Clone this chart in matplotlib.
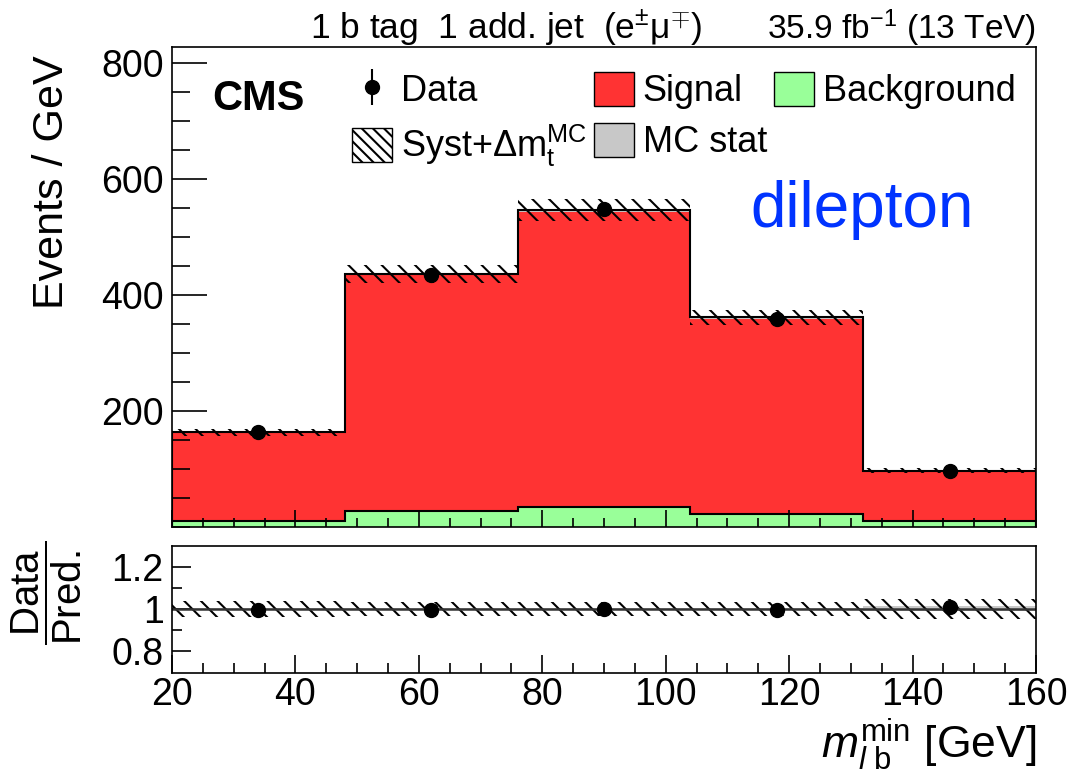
import matplotlib
matplotlib.use('Agg')
import matplotlib.pyplot as plt
from matplotlib.ticker import MultipleLocator, FixedLocator
from matplotlib.patches import Patch

plt.rcParams['font.family'] = ['Liberation Sans', 'DejaVu Sans']
plt.rcParams['mathtext.fontset'] = 'custom'
plt.rcParams['mathtext.rm'] = 'Liberation Sans'
plt.rcParams['mathtext.it'] = 'Liberation Sans:italic'
plt.rcParams['mathtext.bf'] = 'Liberation Sans:bold'
plt.rcParams['hatch.linewidth'] = 1.5

# binning in m_lb^min (GeV)
edges = [20, 48, 76, 104, 132, 160]
bin_centers = [34, 62, 90, 118, 146]

# events / GeV
data = [164, 434, 548, 359, 97]
data_err = [2.4, 3.9, 4.4, 3.6, 1.9]
background = [11, 27, 34, 23, 10]
prediction = [163, 436, 546, 361, 97]   # signal + background
syst_rel = [0.037, 0.035, 0.035, 0.035, 0.048]
mcstat_rel = [0.006, 0.005, 0.005, 0.005, 0.012]

# ratio panel
ratio = [0.995, 0.993, 1.0, 0.995, 1.011]
ratio_err = [0.015, 0.009, 0.008, 0.01, 0.019]

red = '#ff3333'
green = '#99ff99'
grey = '#c8c8c8'
hatch = '\\\\'

fig = plt.figure(figsize=(10.71, 7.74), dpi=100)
W, H = 1071, 774
ax = fig.add_axes([172 / W, 1 - 527 / H, 864 / W, 480 / H])
ax2 = fig.add_axes([172 / W, 1 - 673 / H, 864 / W, 127 / H])

# --- main panel ---
ax.stairs(background, edges, fill=True, color=green)
ax.stairs(prediction, edges, baseline=background, fill=True, color=red)

stat_up = [p * (1 + r) for p, r in zip(prediction, mcstat_rel)]
stat_dn = [p * (1 - r) for p, r in zip(prediction, mcstat_rel)]
ax.stairs(stat_up, edges, baseline=stat_dn, fill=True, color=grey, lw=0)

syst_up = [p * (1 + r) for p, r in zip(prediction, syst_rel)]
syst_dn = [p * (1 - r) for p, r in zip(prediction, syst_rel)]
ax.stairs(syst_up, edges, baseline=syst_dn, fill=True, facecolor='none',
          edgecolor='k', hatch=hatch, lw=0)

ax.stairs(background, edges, color='k', lw=1.5)
ax.stairs(prediction, edges, color='k', lw=1.5)

data_h = ax.errorbar(bin_centers, data, yerr=data_err, fmt='o', color='k',
                     ms=10, elinewidth=1.5, capsize=0)

ax.set_xlim(20, 160)
ax.set_ylim(0, 827)
ax.yaxis.set_major_locator(FixedLocator([200, 400, 600, 800]))
ax.yaxis.set_minor_locator(MultipleLocator(50))
ax.xaxis.set_major_locator(MultipleLocator(20))
ax.xaxis.set_minor_locator(MultipleLocator(5))
ax.tick_params(axis='both', which='both', direction='in', width=1.2,
               top=False, right=False, labelbottom=False)
ax.tick_params(axis='y', which='major', length=25, labelsize=27, pad=6)
ax.tick_params(axis='y', which='minor', length=13)
ax.tick_params(axis='x', which='major', length=12)
ax.tick_params(axis='x', which='minor', length=6.5)
for s in ax.spines.values():
    s.set_linewidth(1.2)

ax.set_ylabel('Events / GeV', fontsize=31, loc='top')
ax.yaxis.set_label_coords(-0.116, 0.983)

handles = [
    data_h,
    Patch(facecolor='white', edgecolor='k', hatch='\\\\\\'),
    Patch(facecolor=red, edgecolor='k'),
    Patch(facecolor=grey, edgecolor='k'),
    Patch(facecolor=green, edgecolor='k'),
]
labels = ['Data', r'Syst+$\Delta\mathrm{m}_{\mathrm{t}}^{\mathrm{MC}}$',
          'Signal', 'MC stat', 'Background']
fig.legend(handles, labels, ncol=3, loc='upper left',
           bbox_to_anchor=(352 / W, 1 - 72 / H), frameon=False, fontsize=26,
           handlelength=1.1, handleheight=1.08, handletextpad=0.25,
           columnspacing=0.2, labelspacing=0.37, borderpad=0, borderaxespad=0)

fig.text(212 / W, 1 - 99 / H, 'CMS', fontsize=30, fontweight='bold',
         va='center', ha='left')
fig.text(750 / W, 1 - 210 / H, 'dilepton', fontsize=46, color='#0033ff',
         va='center', ha='left')

fig.text(310 / W, 1 - 39 / H,
         r'1 b tag  1 add. jet  (e$^{\pm}$μ$^{\mp}$)', fontsize=25.5,
         va='baseline', ha='left')
fig.text(1036 / W, 1 - 39 / H, r'35.9 fb$^{-1}$ (13 TeV)', fontsize=24,
         va='baseline', ha='right')

# --- ratio panel ---
r_stat_up = [1 + r for r in mcstat_rel]
r_stat_dn = [1 - r for r in mcstat_rel]
ax2.stairs(r_stat_up, edges, baseline=r_stat_dn, fill=True, color=grey, lw=0)
r_syst_up = [1 + r for r in syst_rel]
r_syst_dn = [1 - r for r in syst_rel]
ax2.stairs(r_syst_up, edges, baseline=r_syst_dn, fill=True, facecolor='none',
           edgecolor='k', hatch=hatch, lw=0)
ax2.axhline(1, color='#333333', lw=1.8)
ax2.errorbar(bin_centers, ratio, yerr=ratio_err, fmt='o', color='k', ms=10,
             elinewidth=1.5, capsize=0)

ax2.set_xlim(20, 160)
ax2.set_ylim(0.695, 1.3)
ax2.yaxis.set_major_locator(FixedLocator([0.8, 1.0, 1.2]))
ax2.set_yticklabels(['0.8', '1', '1.2'])
ax2.yaxis.set_minor_locator(FixedLocator([0.9, 1.1]))
ax2.xaxis.set_major_locator(MultipleLocator(20))
ax2.xaxis.set_minor_locator(MultipleLocator(5))
ax2.tick_params(axis='both', which='both', direction='in', width=1.2,
                top=False, right=False)
ax2.tick_params(axis='y', which='major', length=13.7, labelsize=27, pad=6)
ax2.tick_params(axis='y', which='minor', length=7)
ax2.tick_params(axis='x', which='major', length=13, labelsize=27, pad=3)
ax2.tick_params(axis='x', which='minor', length=7)
for s in ax2.spines.values():
    s.set_linewidth(1.2)

fig.text(47 / W, 1 - 593 / H, r'$\dfrac{\mathrm{Data}}{\mathrm{Pred.}}$',
         fontsize=29, rotation=90, ha='center', va='center')

ax2.set_xlabel(r'$m_{\mathit{l}\ \mathrm{b}}^{\mathrm{min}}$ [GeV]',
               fontsize=32, loc='right')
ax2.xaxis.set_label_coords(1.0, -0.34)

fig.savefig('out.png', dpi=100)
